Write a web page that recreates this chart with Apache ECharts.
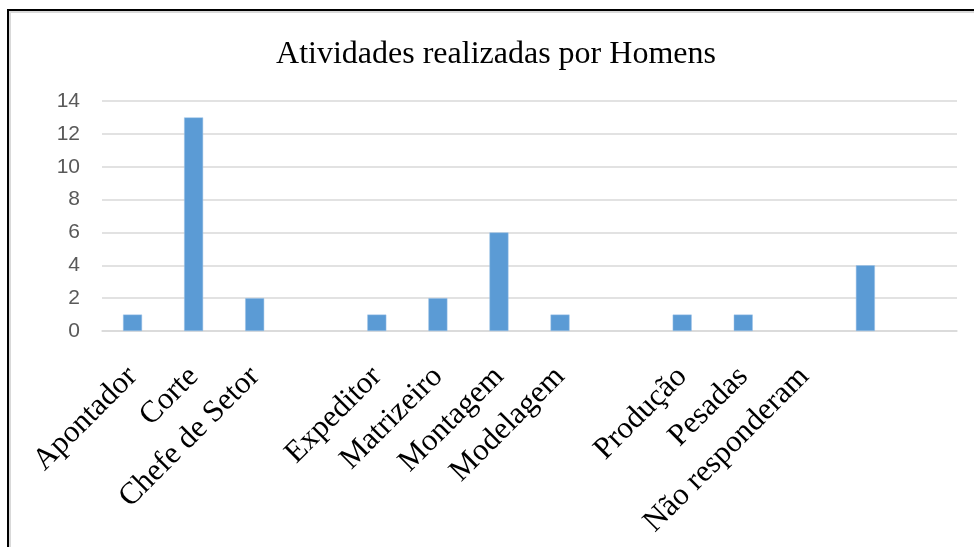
<!DOCTYPE html>
<html>
<head>
<meta charset="utf-8">
<script src="https://cdn.jsdelivr.net/npm/echarts@6/dist/echarts.min.js"></script>
<style>
html,body{margin:0;padding:0;background:#fff;overflow:hidden;}
#chart{position:absolute;left:0;top:0;width:974px;height:547px;}
#frame{position:absolute;left:7px;top:9px;width:1000px;height:600px;border-top:2px solid #000;border-left:2px solid #000;box-shadow:inset 2px 2px 0 #d9d9d9;pointer-events:none;}
</style>
</head>
<body>
<div id="chart"></div>
<div id="frame"></div>
<script>
const titleText = 'Atividades realizadas por Homens';
const categories = ['Apontador','Corte','Chefe de Setor','','Expeditor','Matrizeiro','Montagem','Modelagem','','Produção','Pesadas','Não responderam','',''];
const values = [1, 13, 2, null, 1, 2, 6, 1, null, 1, 1, null, 4, null];
const yTicks = [0, 2, 4, 6, 8, 10, 12, 14];

const chart = echarts.init(document.getElementById('chart'));
chart.setOption({
  animation: false,
  title: {
    text: titleText,
    left: 491, top: 34, textAlign: 'center',
    textStyle: {fontFamily: 'Liberation Serif', fontSize: 32, fontWeight: 'normal', color: '#000'}
  },
  grid: {left: 102, right: 17, top: 101, bottom: 216, containLabel: false},
  xAxis: {
    type: 'category',
    data: categories,
    axisLine: {lineStyle: {color: '#d9d9d9', width: 1.5}},
    axisTick: {show: false},
    axisLabel: {
      interval: 0, rotate: 45, margin: 41,
      fontFamily: 'Liberation Serif', fontSize: 31, color: '#000'
    }
  },
  yAxis: {
    type: 'value',
    min: yTicks[0], max: yTicks[yTicks.length - 1], interval: 2,
    axisLine: {show: false},
    axisTick: {show: false},
    splitLine: {lineStyle: {color: '#d9d9d9', width: 1.5}},
    axisLabel: {margin: 22, fontFamily: 'Liberation Sans', fontSize: 21, color: '#595959'}
  },
  series: [{
    type: 'bar',
    data: values,
    barWidth: 19,
    itemStyle: {color: '#5b9bd5', borderColor: '#9dc3e6', borderWidth: 0.5}
  }]
});
</script>
</body>
</html>
